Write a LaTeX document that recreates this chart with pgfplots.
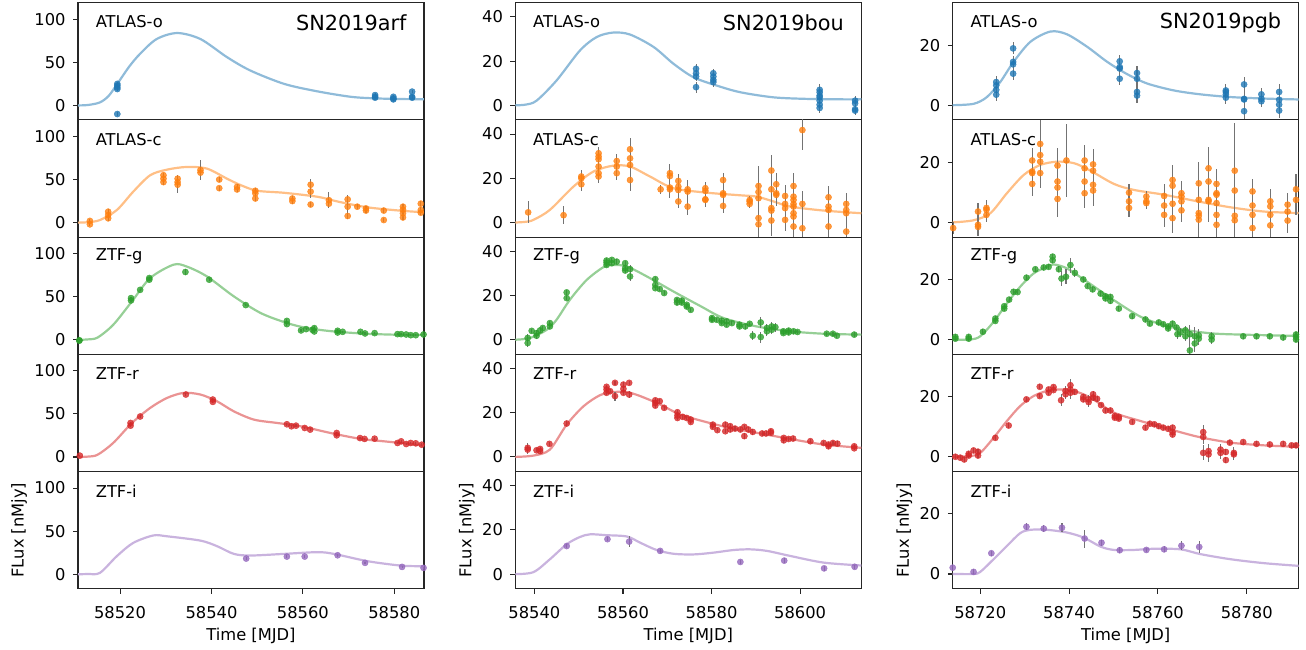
\documentclass[border=0pt]{standalone}
\usepackage{fontspec}
\setmainfont{DejaVu Sans}
\usepackage{pgfplots}
\pgfplotsset{compat=1.18}
\definecolor{tabblue}{HTML}{1F77B4}
\definecolor{taborange}{HTML}{FF7F0E}
\definecolor{tabgreen}{HTML}{2CA02C}
\definecolor{tabred}{HTML}{D62728}
\definecolor{tabpurple}{HTML}{9467BD}
\newcommand\lbl{\fontsize{16.3}{19}\selectfont}
\newcommand\ttl{\fontsize{20.8}{25}\selectfont}
\pgfplotsset{
  base/.style={scale only axis, width=346pt, height=117.2pt, anchor=south west,
    axis line style={line width=1.1pt, black!85}, tick align=outside, major tick length=4.9pt,
    tick style={line width=1.1pt, black!85}, xtick pos=bottom, ytick pos=left,
    ticklabel style={font=\lbl}, /pgf/number format/assume math mode=true,
    scaled x ticks=false, scaled y ticks=false,
    xticklabel style={yshift=-9pt}, yticklabel style={xshift=-4pt},
    label style={font=\lbl}, clip=true},
  col1/.style={xmin=58510.8, xmax=58586.5, ymin=-16.8, ymax=119.2, ytick={0,50,100}},
  col2/.style={xmin=58535.7, xmax=58613.8, ymin=-6.6, ymax=46.4, ytick={0,20,40}},
  col3/.style={xmin=58713.8, xmax=58791.7, ymin=-4.9, ymax=34.1, ytick={0,20}},
  upper/.style={xtick=\empty},
  lower/.style={xlabel={Time [MJD]}, ylabel={FLux [nMjy]}, xlabel style={yshift=-3pt}, ylabel style={yshift=0.5pt}},
  curve/.style={no marks, smooth, line width=2.2pt, draw=#1!50!white},
  pts/.style={only marks, mark=*, mark size=3.1pt, color=#1,
    mark options={fill=#1, draw=#1, line width=0.4pt, fill opacity=0.8, draw opacity=0.8},
    error bars/.cd, y dir=both, y explicit, error mark=none,
    error bar style={line width=1.1pt, black!55}},
}
\newcommand\band[1]{\node[anchor=west, inner sep=0pt, font=\lbl] at (rel axis cs:0.051,0.835) {#1};}
\newcommand\sn[1]{\node[anchor=east, inner sep=0pt, font=\ttl] at (rel axis cs:0.95,0.825) {#1};}
\begin{document}
\begin{tikzpicture}
\useasboundingbox (0,0) rectangle (1306pt,649pt);
%================ COLUMN 1 : SN2019arf =================
\begin{axis}[base, col1, upper, at={(78pt,529.1pt)}]
\addplot[curve=tabblue] table[row sep=\\]{
58510.8 0\\ 58513 0.5\\ 58515.6 3.5\\ 58517.5 11\\ 58519.4 25\\ 58522 45\\ 58524.4 60\\ 58528 77\\ 58532.5 84\\ 58537.6 77\\ 58543.4 56\\ 58548.5 40.5\\ 58555.9 25\\ 58563.2 16.3\\ 58570.5 10\\ 58575.7 8.2\\ 58581.5 7.4\\ 58586.5 7.2\\};
\addplot[pts=tabblue] table[row sep=\\, y error index=2]{
58519.4 25 2\\ 58519.4 23 2\\ 58519.4 21 2\\ 58519.4 19 2\\ 58519.4 -10 2\\
58575.8 12 2\\ 58575.8 10 2\\ 58575.8 9 2\\ 58579.8 10 2\\ 58579.8 8 2\\ 58579.8 7 2\\
58583.9 16 2\\ 58583.9 10 2\\ 58583.9 9 2\\};
\band{ATLAS-o}
\sn{SN2019arf}
\end{axis}
\begin{axis}[base, col1, upper, at={(78pt,411.9pt)}]
\addplot[curve=taborange] table[row sep=\\]{
58510.8 0\\ 58513 0.5\\ 58515.6 3\\ 58519.3 14.6\\ 58522.9 36\\ 58526.6 55\\ 58530.3 61.5\\ 58534.6 64.6\\ 58539 62.7\\ 58543.4 51\\ 58546.4 43.5\\ 58550 37\\ 58555.9 34.6\\ 58563.2 30\\ 58568 24\\ 58574.2 17.7\\ 58581.5 13.8\\ 58586.5 12\\};
\addplot[pts=taborange] table[row sep=\\, y error index=2]{
58513.4 2 2\\ 58513.4 -2 2\\ 58517.4 12.7 3\\ 58517.4 8.8 3\\ 58517.4 5 3\\
58529.5 55 3\\ 58529.5 51 3\\ 58529.5 47 3\\ 58532.6 51 4\\ 58532.6 47 4\\ 58532.6 44 10\\
58537.6 61 12\\ 58537.6 58 4\\ 58541.7 50 3\\ 58541.7 40 3\\ 58545.6 41.5 3\\ 58545.6 38.5 3\\
58549.6 37 3\\ 58549.6 34 3\\ 58549.6 28 3\\ 58557.7 28 3\\ 58557.7 25 3\\
58561.7 44 7\\ 58561.7 36 7\\ 58561.7 21 3\\ 58565.7 26 9\\ 58565.7 22 3\\
58569.8 27 5\\ 58569.8 18.5 9\\ 58569.8 7.7 3\\ 58571.9 18.5 3\\ 58573.8 16.5 3\\ 58573.8 14 3\\
58577.7 14 3\\ 58577.7 3 2\\ 58581.9 18.5 3\\ 58581.9 15 3\\ 58581.9 10.8 3\\ 58581.9 6 3\\
58585.8 22 3\\ 58585.8 14.6 3\\ 58585.8 11.5 3\\};
\band{ATLAS-c}
\end{axis}
\begin{axis}[base, col1, upper, at={(78pt,294.7pt)}]
\addplot[curve=tabgreen] table[row sep=\\]{
58510.8 0\\ 58513 0.5\\ 58515.1 2.7\\ 58518.5 17.4\\ 58522.6 44.6\\ 58526.6 71.7\\ 58531.7 87.2\\ 58534.6 85\\ 58539 73.6\\ 58544.9 50.4\\ 58550.8 31\\ 58556.6 19.4\\ 58561 13.6\\ 58566.8 9.7\\ 58574.1 7\\ 58581.5 5.8\\ 58586.5 5.8\\};
\addplot[pts=tabgreen] table[row sep=\\, y error index=2]{
58511.1 -1 1\\ 58511.1 -0.5 1\\ 58522.4 48.4 1.5\\ 58522.4 45.7 1.5\\ 58524.4 58 1.5\\
58526.4 71.7 1.5\\ 58526.4 69.8 1.5\\ 58534.3 78.7 4\\ 58539.5 69.8 1.5\\ 58547.5 40.3 1.5\\
58556.5 22 2\\ 58556.5 18.2 2\\ 58559.6 10.9 2\\ 58560.7 12.4 1.5\\ 58562.1 11.6 1.5\\
58562.5 13.6 2\\ 58562.5 9.7 2\\ 58567.6 10.5 1.5\\ 58567.6 8.5 1.5\\ 58568.7 9.3 1.5\\
58572.6 9.3 1.5\\ 58573.6 7.4 1.5\\ 58575.7 7.8 1.5\\ 58580.7 6.6 1.5\\ 58581.5 6.6 1\\
58582.6 6.2 1\\ 58583.6 5.4 1\\ 58584.7 5.4 1\\ 58586.4 6.2 1\\};
\band{ZTF-g}
\end{axis}
\begin{axis}[base, col1, upper, at={(78pt,177.5pt)}]
\addplot[curve=tabred] table[row sep=\\]{
58510.8 0\\ 58513 0.5\\ 58515.1 2.7\\ 58518.5 16.3\\ 58522.6 39.5\\ 58526.6 57\\ 58530.3 68.6\\ 58533.9 74.4\\ 58537.6 72.5\\ 58541.2 64.7\\ 58544.9 53\\ 58549.3 43.4\\ 58554.4 39.5\\ 58559.5 35.7\\ 58566.8 27\\ 58572.7 21\\ 58577.8 18.2\\ 58582.9 15.5\\ 58586.5 13\\};
\addplot[pts=tabred] table[row sep=\\, y error index=2]{
58511.2 1.6 1\\ 58522.3 39.5 1.5\\ 58522.3 36.4 1.5\\ 58524.4 47 1.5\\ 58534.4 72.5 1.5\\
58540.3 66.7 1.5\\ 58540.3 64 1.5\\ 58556.5 38 1.5\\ 58557.5 35.7 1.5\\ 58558.5 36.4 1.5\\
58560.4 33.7 1.5\\ 58561.6 31.8 1.5\\ 58567.4 27.9 1.5\\ 58567.4 25.2 1.5\\ 58572.5 22 1.5\\
58573.5 21 1.5\\ 58575.7 21.3 1.5\\ 58580.7 16.3 1.5\\ 58581.5 18.2 1.5\\ 58582.6 15.1 1.5\\
58583.6 16.3 1.5\\ 58584.7 15.9 1.5\\ 58586 14.3 1.5\\};
\band{ZTF-r}
\end{axis}
\begin{axis}[base, col1, lower, at={(78pt,60.3pt)}, xtick={58520,58540,58560,58580}, xticklabels={58520,58540,58560,58580}]
\addplot[curve=tabpurple] table[row sep=\\]{
58510.8 0\\ 58513 0.3\\ 58515.6 1.6\\ 58519.3 21\\ 58522.9 36.4\\ 58527.3 45\\ 58530.3 44\\ 58537.6 39\\ 58541.2 32.6\\ 58544.9 23.6\\ 58548.5 21.7\\ 58555.9 23.6\\ 58563.2 25.6\\ 58566.8 23.6\\ 58574.2 15.1\\ 58581.5 10\\ 58586.5 9.3\\};
\addplot[pts=tabpurple] table[row sep=\\, y error index=2]{
58547.6 18.2 1.5\\ 58556.5 20.5 1.5\\ 58560.4 20.5 1.5\\ 58567.6 22 1.5\\ 58573.6 13.2 1.5\\ 58581.7 8.5 1.5\\ 58586.4 7.4 1.5\\};
\band{ZTF-i}
\end{axis}
%================ COLUMN 2 : SN2019bou =================
\begin{axis}[base, col2, upper, at={(515.3pt,529.1pt)}]
\addplot[curve=tabblue] table[row sep=\\]{
58535.7 0\\ 58538 0.3\\ 58540.5 2.1\\ 58545 11.2\\ 58550.3 24.8\\ 58554.1 30.9\\ 58557.8 32.9\\ 58561.6 32\\ 58566.9 26.4\\ 58571.4 18.8\\ 58575.9 12.7\\ 58581.2 8.9\\ 58586.5 5.9\\ 58594 3.6\\ 58601.5 2.9\\ 58609 2.7\\ 58613.8 2.7\\};
\addplot[pts=tabblue] table[row sep=\\, y error index=2]{
58576.5 16.5 2\\ 58576.5 14.5 2\\ 58576.5 13 2\\ 58576.5 8.2 2.5\\
58580.4 14.5 2\\ 58580.4 13 2\\ 58580.4 11.5 2\\ 58580.4 10.5 2\\
58604.4 7 2.5\\ 58604.4 5.9 2.5\\ 58604.4 4.4 2.5\\ 58604.4 3.6 2.5\\ 58604.4 2.1 2.5\\ 58604.4 0.3 2.5\\ 58604.4 -1.2 2.5\\
58612.4 2.1 2\\ 58612.4 0.9 2\\ 58612.4 -1.8 2\\ 58612.4 -2.4 2\\};
\band{ATLAS-o}
\sn{SN2019bou}
\end{axis}
\begin{axis}[base, col2, upper, at={(515.3pt,411.9pt)}]
\addplot[curve=taborange] table[row sep=\\]{
58535.7 0\\ 58538 0.3\\ 58539.8 1.2\\ 58543.5 5.7\\ 58548.8 16.2\\ 58553.3 23\\ 58557.8 25.7\\ 58561.6 25.3\\ 58566.1 20.8\\ 58571.4 15.5\\ 58578.9 13.5\\ 58586.5 12.3\\ 58590.2 11.7\\ 58594 9.5\\ 58597.8 7.2\\ 58605.3 5.4\\ 58613.8 4.2\\};
\addplot[pts=taborange] table[row sep=\\, y error index=2]{
58538.6 4.6 5\\ 58546.6 3.3 4\\ 58550.6 20.8 3\\ 58550.6 20 3\\ 58550.6 17.3 3\\
58554.5 31.3 3\\ 58554.5 29.8 3\\ 58554.5 28.6 3\\ 58554.5 25.3 3\\ 58554.5 22.3 3\\ 58554.5 20.8 3\\
58558.6 27.8 3\\ 58558.6 25.3 3\\ 58558.6 22.3 3\\
58561.6 33.1 5\\ 58561.6 29 5\\ 58561.6 26 5\\ 58561.6 19.2 5\\
58568.5 15 2\\ 58570.6 22.3 4\\ 58570.6 21 4\\ 58570.6 15.8 4\\ 58570.6 15 4\\
58572.5 18.8 3\\ 58572.5 16.2 3\\ 58572.5 14.7 3\\ 58572.5 9.5 3\\
58574.6 15 4\\ 58574.6 14 4\\ 58574.6 7.2 4\\
58578.6 15.5 3\\ 58578.6 14.3 3\\ 58578.6 10.5 3\\ 58578.6 10.2 3\\
58582.6 19.2 3\\ 58582.6 13.2 3\\ 58582.6 12.5 3\\ 58582.6 7.5 3\\
58588.6 10.2 2\\ 58588.6 9.5 2\\ 58588.6 8.4 2\\
58590.6 16.5 9\\ 58590.6 13.8 9\\ 58590.6 11 9\\ 58590.6 2 9\\ 58590.6 -0.8 9\\
58593.5 23.5 7\\ 58593.5 15 7\\ 58593.5 6.5 7\\ 58593.5 5.4 7\\ 58593.5 0.9 7\\
58594.6 17.3 5\\ 58594.6 13.2 5\\ 58594.6 12.5 5\\
58596.6 12 5\\ 58596.6 8.4 5\\ 58596.6 6.5 5\\ 58596.6 1.2 5\\
58598.5 16.5 6\\ 58598.5 11.7 6\\ 58598.5 10.2 6\\ 58598.5 8.4 6\\ 58598.5 7.2 6\\ 58598.5 4.2 6\\ 58598.5 2.7 6\\ 58598.5 -1.8 6\\
58600.5 41.8 9\\ 58600.5 8.4 6\\ 58600.5 -2.6 6\\
58606.4 11.4 5\\ 58606.4 7.2 5\\ 58606.4 5.7 5\\ 58606.4 -1.8 5\\
58610.4 8.4 5\\ 58610.4 5.7 5\\ 58610.4 4.2 5\\ 58610.4 -4.1 5\\};
\band{ATLAS-c}
\end{axis}
\begin{axis}[base, col2, upper, at={(515.3pt,294.7pt)}]
\addplot[curve=tabgreen] table[row sep=\\]{
58535.7 0\\ 58539 0.75\\ 58542.8 4.5\\ 58545 9\\ 58548 18\\ 58551.8 27\\ 58555.6 32.8\\ 58557.8 33.8\\ 58560.9 33.1\\ 58565.4 28.6\\ 58571.4 21.8\\ 58577.4 15.3\\ 58582.7 9.8\\ 58590.2 6\\ 58597.8 3.8\\ 58605.3 2.7\\ 58613.8 2.3\\};
\addplot[pts=tabgreen] table[row sep=\\, y error index=2]{
58538.5 0.8 2\\ 58538.5 -1.5 2\\ 58539.4 4 1\\ 58540.5 3 1.5\\ 58540.5 1.8 1.5\\ 58541.3 4.2 1\\ 58541.9 5.3 1\\
58543.5 7.5 1\\ 58543.5 6 1\\ 58547.3 21.4 1\\ 58547.3 18.8 1\\
58556.3 35.8 1\\ 58556.3 34.9 1\\ 58556.3 33.8 1\\ 58557.5 36.1 1\\ 58557.5 34.6 1\\ 58558.6 35.3 1\\
58560.5 34.6 1\\ 58560.5 32.3 1\\ 58560.5 31.3 1\\ 58561.6 31.9 2\\ 58561.6 28.6 2\\
58567.3 27.4 1\\ 58567.3 24.8 1\\ 58567.3 23.3 1\\ 58568.3 22.9 1\\ 58569.3 21.1 1\\
58572.2 18 1\\ 58572.2 16.8 1\\ 58573.3 17.7 1\\ 58573.3 16.8 1\\ 58574.4 15.8 1\\ 58574.4 15 1\\ 58575.3 13.5 1\\
58580.1 9.8 1\\ 58580.1 9 1\\ 58581.2 9 1\\ 58582.3 8.6 1\\ 58582.3 7.5 1\\ 58583.4 8.3 1\\ 58583.4 6.8 1\\ 58584.6 7.5 1\\
58586.3 6.8 1\\ 58586.3 6 1\\ 58587.6 6 1\\ 58588.6 7.2 1\\ 58589.3 1.8 2\\
58591.1 7.8 2.5\\ 58591.1 1.2 2.5\\ 58592.5 5.3 2\\ 58592.5 3.8 2\\ 58593.6 6 2\\ 58593.6 4.5 2\\ 58594.4 5.7 2\\
58596.2 3.8 1\\ 58596.2 3 1\\ 58597.4 4.1 1\\ 58597.4 3.3 1\\ 58598.5 3.8 1\\ 58599.4 3.5 1\\
58606 2.7 1\\ 58607.4 2.7 1\\ 58608.3 1.8 1\\ 58612.2 2.3 1\\};
\band{ZTF-g}
\end{axis}
\begin{axis}[base, col2, upper, at={(515.3pt,177.5pt)}]
\addplot[curve=tabred] table[row sep=\\]{
58535.7 0\\ 58539.8 0.6\\ 58543.5 3.3\\ 58547.3 14.6\\ 58551.1 22.9\\ 58554.8 27.9\\ 58557.8 29.3\\ 58560.9 29.3\\ 58563.9 27.5\\ 58568.4 23.7\\ 58572.9 19.2\\ 58578.9 15.7\\ 58584.2 13.1\\ 58590.2 10.9\\ 58597.8 8.1\\ 58605.3 5.6\\ 58613.8 4.1\\};
\addplot[pts=tabred] table[row sep=\\, y error index=2]{
58538.5 4.1 2\\ 58538.5 3.3 2\\ 58540.5 3 1\\ 58541.3 3.6 1\\ 58541.3 2.6 1\\ 58543.4 5.9 1\\ 58547.3 15.1 1\\
58556.3 31.7 1\\ 58556.3 30.5 1\\ 58556.3 29 1\\ 58557.1 29.7 1\\ 58558.2 33.5 1\\ 58558.2 27.5 2\\
58560.1 32.7 1\\ 58560.1 30.8 1\\ 58560.1 29 1\\ 58561.4 33.5 1\\ 58561.4 28.2 1.5\\
58567.3 25.6 1\\ 58567.3 24.4 1\\ 58567.3 23.2 1\\ 58568.3 25.2 1\\ 58569.3 22.2 1\\
58572.3 20.2 1\\ 58572.3 18.7 1\\ 58572.3 17.6 1\\ 58573.5 18.1 1\\ 58574.4 17.6 1\\ 58575.3 16.9 1\\ 58575.3 15.8 1\\
58580.3 14.6 1\\ 58580.3 13.6 1\\ 58581.3 12.1 1\\ 58583.1 14.6 1\\ 58583.1 11.6 1\\ 58584.2 13.9 1\\ 58584.2 12.4 1\\
58585.3 12.8 1\\ 58586.5 12.4 1\\ 58587.4 13.6 1\\ 58587.4 9.4 1.5\\ 58588.3 12.4 1\\ 58589.3 11.3 1.5\\
58591.4 10.6 1\\ 58592.3 10.6 1\\ 58593.4 11.6 1\\ 58593.4 10.9 1\\
58596.3 8.6 1\\ 58596.3 7.5 1\\ 58597.4 8.1 1\\ 58598.4 8.3 1\\ 58602.3 7.1 1\\
58605.3 6.3 1\\ 58606.4 5.6 1\\ 58606.4 4.8 1\\ 58607.4 6.3 1\\ 58608.4 6 1\\ 58612.2 4.8 1\\ 58612.2 3.9 1\\};
\band{ZTF-r}
\end{axis}
\begin{axis}[base, col2, lower, at={(515.3pt,60.3pt)}, xtick={58540,58560,58580,58600}, xticklabels={58540,58560,58580,58600}]
\addplot[curve=tabpurple] table[row sep=\\]{
58535.7 0\\ 58539.8 0.9\\ 58543.5 6.7\\ 58547.3 13.5\\ 58550.3 16.8\\ 58552.6 18\\ 58556.3 17.6\\ 58560.9 17\\ 58563.9 14.2\\ 58567.6 10.9\\ 58571.4 9.2\\ 58575.9 8.9\\ 58580.4 9.7\\ 58585 10.9\\ 58588.7 11.2\\ 58592.5 10.5\\ 58597.8 8.2\\ 58605.3 5.2\\ 58613.8 3.9\\};
\addplot[pts=tabpurple] table[row sep=\\, y error index=2]{
58547.3 12.7 1\\ 58556.5 15.8 1\\ 58561.4 14.7 2.5\\ 58568.4 10.5 1\\ 58586.5 5.5 1\\ 58596.4 6.1 1\\ 58605.4 2.6 1\\ 58612.3 3.3 1\\};
\band{ZTF-i}
\end{axis}
%================ COLUMN 3 : SN2019pgb =================
\begin{axis}[base, col3, upper, at={(952.7pt,529.1pt)}]
\addplot[curve=tabblue] table[row sep=\\]{
58713.8 0\\ 58718.5 0.45\\ 58721.5 2.7\\ 58724.5 7.7\\ 58727.5 14.4\\ 58731.3 21.1\\ 58735.8 24.5\\ 58739.5 23.6\\ 58744.1 19.4\\ 58748.6 14.4\\ 58753.1 10.3\\ 58757.6 7.2\\ 58763.6 4.9\\ 58769.6 3.6\\ 58776.4 2.7\\ 58783.9 2.2\\ 58791.7 1.9\\};
\addplot[pts=tabblue] table[row sep=\\, y error index=2]{
58723.6 7.7 2\\ 58723.6 6.6 2\\ 58723.6 5.1 2\\ 58723.6 3.5 2\\
58727.4 18.9 2\\ 58727.4 14.4 2\\ 58727.4 13.6 2\\ 58727.4 10.5 2\\
58751.4 14.6 2\\ 58751.4 12.7 2\\ 58751.4 12.2 2\\ 58751.4 8.8 2\\
58755.3 10.7 2.5\\ 58755.3 8.8 2.5\\ 58755.3 4.4 2.5\\ 58755.3 3.2 2.5\\
58775.3 4.9 2\\ 58775.3 4.4 2\\ 58775.3 3.6 2\\ 58775.3 2.5 2\\
58779.4 6.9 2.5\\ 58779.4 2.1 2.5\\ 58779.4 1.9 2.5\\ 58779.4 -2 2.5\\
58783.3 3.6 2\\ 58783.3 2.1 2\\ 58783.3 1.3 2\\
58787.3 4.4 2.5\\ 58787.3 1.8 2.5\\ 58787.3 0.2 2.5\\ 58787.3 -1.8 2.5\\};
\band{ATLAS-o}
\sn{SN2019pgb}
\end{axis}
\begin{axis}[base, col3, upper, at={(952.7pt,411.9pt)}]
\addplot[curve=taborange] table[row sep=\\]{
58713.8 0\\ 58718.5 0.7\\ 58722.3 3.1\\ 58726 9.7\\ 58729.8 15.8\\ 58733.5 19.1\\ 58737.3 20.2\\ 58741.1 19.7\\ 58744.8 17.2\\ 58750.1 12.8\\ 58754.6 10.8\\ 58761.4 9.2\\ 58768.9 7\\ 58776.4 5\\ 58783.9 3.6\\ 58791.7 3.1\\};
\addplot[pts=taborange] table[row sep=\\, y error index=2]{
58713.9 -1.9 2\\ 58719.5 3.6 3\\ 58719.5 -0.8 3\\ 58719.5 -1.5 3\\ 58721.4 4.8 2.5\\ 58721.4 4.2 2.5\\ 58721.4 2.5 2.5\\
58731.7 20.6 4\\ 58731.7 16.9 4\\ 58731.7 16.4 4\\ 58731.7 12.8 4\\
58733.5 26.1 8\\ 58733.5 22.4 5\\ 58733.5 20.2 5\\ 58733.5 16.4 5\\
58737.4 18.9 6\\ 58737.4 13.6 6\\ 58737.4 11.6 6\\ 58737.4 7.8 6\\ 58739.4 20.6 12\\
58743.5 20.6 5\\ 58743.5 18 5\\ 58743.5 13.6 5\\ 58743.5 9.7 5\\
58745.4 19.3 5\\ 58745.4 17.2 5\\ 58745.4 12.5 5\\ 58745.4 10.6 5\\
58753.5 9.9 3\\ 58753.5 7 3\\ 58753.5 4.8 3\\ 58757.4 8.6 2\\ 58757.4 7 2\\ 58757.4 6.4 2\\
58761.4 8.8 4\\ 58761.4 5.6 4\\ 58761.4 2.5 4\\
58763.3 14.1 5\\ 58763.3 12.2 5\\ 58763.3 6.2 5\\ 58763.3 1.4 5\\
58765.3 9.7 4\\ 58765.3 8.6 4\\ 58765.3 7 4\\ 58765.3 4 4\\
58769.2 13 7\\ 58769.2 7.5 7\\ 58769.2 3.1 7\\ 58769.2 2.2 7\\ 58769.2 0.9 7\\
58771.4 18 7\\ 58771.4 13.6 7\\ 58771.4 7.5 7\\ 58771.4 7 7\\
58773.2 12.8 5\\ 58773.2 9.7 5\\ 58773.2 9.2 5\\ 58773.2 6.4 5\\ 58773.2 2.5 5\\ 58773.2 -0.8 5\\
58777.3 17.2 16\\ 58777.3 10.6 8\\ 58777.3 2.2 8\\ 58777.3 0.7 8\\
58781.3 10.3 4\\ 58781.3 5.6 4\\ 58781.3 2.5 4\\ 58781.3 -1.9 4\\
58785.3 7 4\\ 58785.3 5.3 4\\ 58785.3 2.5 4\\ 58785.3 -1 4\\
58789.2 5.9 4\\ 58789.2 3.6 4\\ 58789.2 0.6 4\\ 58791.1 11 5\\ 58791.1 7.5 5\\};
\band{ATLAS-c}
\end{axis}
\begin{axis}[base, col3, upper, at={(952.7pt,294.7pt)}]
\addplot[curve=tabgreen] table[row sep=\\]{
58713.8 0\\ 58717.7 0\\ 58720 1.1\\ 58723 5.9\\ 58726 12\\ 58729 17.6\\ 58732 22\\ 58735 24.2\\ 58736.5 25\\ 58739.5 23.7\\ 58744.1 19.2\\ 58750.1 13.1\\ 58756.1 7.6\\ 58761.4 4.8\\ 58766.6 3.1\\ 58772.6 2\\ 58780.2 1.6\\ 58791.7 1.2\\};
\addplot[pts=tabgreen] table[row sep=\\, y error index=2]{
58714.4 0.9 0.8\\ 58714.4 0.3 0.8\\ 58717.4 0.9 0.8\\ 58717.4 0.3 0.8\\ 58720.6 2.6 0.8\\
58723.4 7 0.8\\ 58723.4 6.2 0.8\\ 58725.4 11.1 0.8\\ 58725.4 10.3 0.8\\ 58726.5 13.3 0.8\\
58727.5 15.9 0.8\\ 58728.4 15.8 0.8\\ 58730.4 20.6 0.8\\ 58732.4 23.4 0.8\\ 58734.3 24 0.8\\
58735.4 24.2 0.8\\ 58736.3 27.6 1\\ 58736.3 26.4 1\\ 58737.7 23.4 1\\ 58738.3 20.3 2.5\\
58739.3 20.9 2.5\\ 58740.3 24.8 2.5\\ 58741.3 22.2 1.5\\ 58743.2 20 0.8\\ 58744.2 17.8 0.8\\
58745.3 16.7 0.8\\ 58747.1 15.3 0.8\\ 58748.2 14.4 0.8\\ 58748.2 13.7 0.8\\ 58749.3 14.2 1\\
58749.3 12.9 1\\ 58751.2 10.3 0.8\\ 58754.2 7.8 0.8\\ 58757.2 6.7 0.8\\ 58758.2 5.3 0.8\\
58760.2 5.7 0.8\\ 58761.2 5.1 0.8\\ 58762.3 4.4 0.8\\ 58762.3 3.7 0.8\\ 58763.3 5.3 0.8\\
58764.2 4 0.8\\ 58764.4 1.8 1.5\\ 58765.1 2.4 1.5\\ 58766.2 3.1 1.5\\ 58766.2 1.1 1.5\\
58767.2 -3.6 4\\ 58767.2 1.8 3\\ 58768.3 1.1 3\\ 58768.3 -1.3 3\\ 58769.2 1.4 2\\ 58769.2 0.3 2\\
58772.1 1.1 1.5\\ 58772.1 0 1.5\\ 58779.2 1.1 0.8\\ 58782.2 1.1 0.8\\ 58785.2 1.1 0.8\\
58788.2 0.7 0.8\\ 58791.1 1.7 0.8\\ 58791.1 0.9 0.8\\ 58791.1 0 0.8\\};
\band{ZTF-g}
\end{axis}
\begin{axis}[base, col3, upper, at={(952.7pt,177.5pt)}]
\addplot[curve=tabred] table[row sep=\\]{
58713.8 0\\ 58717.7 0.2\\ 58720 1.3\\ 58723 6.3\\ 58726 11.9\\ 58729 16.9\\ 58732 20.2\\ 58735 21.9\\ 58738 22.4\\ 58741.1 21.9\\ 58744.8 19.7\\ 58750.1 14.7\\ 58756.1 11.9\\ 58761.4 9.7\\ 58768.9 6.7\\ 58776.4 4.7\\ 58783.9 3.8\\ 58791.7 3.3\\};
\addplot[pts=tabred] table[row sep=\\, y error index=2]{
58714.4 0 0.8\\ 58715.5 -0.3 0.8\\ 58716.4 -0.9 0.8\\ 58717.4 1 0.8\\ 58717.4 0.4 0.8\\
58718.5 2.1 0.8\\ 58719.5 1.7 0.8\\ 58719.5 0.4 0.8\\ 58723.4 6.3 0.8\\ 58726.4 10.4 0.8\\
58730.4 19.1 0.8\\ 58733.4 23.3 0.8\\ 58733.4 20.2 0.8\\ 58735.4 22.4 0.8\\ 58735.4 21.3 0.8\\
58736.5 23.2 0.8\\ 58736.5 22.2 0.8\\ 58738.2 18.8 2\\ 58739.2 21.9 1.5\\ 58739.2 20.8 1.5\\
58740.3 23.8 2\\ 58740.3 22.4 2\\ 58740.3 21.3 2\\ 58741.3 21.6 1\\ 58743.2 19.9 1\\
58743.2 19.1 1\\ 58744.4 19.1 1.5\\ 58744.4 18.2 1.5\\ 58745.4 20.8 1\\ 58745.4 19.7 1\\
58746.3 19.3 1\\ 58747.2 17.2 0.8\\ 58748.2 15.4 0.8\\ 58749.3 15.4 0.8\\ 58750.3 13.6 0.8\\
58750.3 13 0.8\\ 58751.2 13.3 0.8\\ 58751.2 12.7 0.8\\ 58754.2 11.6 0.8\\ 58757.2 9.7 0.8\\
58758.2 11 0.8\\ 58759.2 10.8 0.8\\ 58760.2 10.2 0.8\\ 58761.2 9.7 0.8\\ 58762.3 9.3 0.8\\
58763.3 9.7 0.8\\ 58763.3 8.2 0.8\\ 58763.3 7.4 0.8\\ 58770.2 8.2 2.5\\ 58770.2 6.6 2.5\\
58770.2 1.3 2.5\\ 58771.4 1.9 2.5\\ 58771.4 0.8 2.5\\ 58774.1 2.4 2\\ 58774.1 1.3 2\\
58775.3 1.6 1\\ 58775.3 -1.1 1\\ 58776.2 4.7 0.8\\ 58777.1 1.3 2\\ 58777.1 0.8 2\\
58779.2 4.9 0.8\\ 58782.2 4.3 0.8\\ 58785.2 4.1 0.8\\ 58788.2 4.3 0.8\\ 58790.1 3.8 0.8\\ 58791.1 3.8 0.8\\};
\band{ZTF-r}
\end{axis}
\begin{axis}[base, col3, lower, at={(952.7pt,60.3pt)}, xtick={58720,58740,58760,58780}, xticklabels={58720,58740,58760,58780}]
\addplot[curve=tabpurple] table[row sep=\\]{
58713.8 0\\ 58718.5 0\\ 58720 0.7\\ 58723 4.9\\ 58726 9.3\\ 58729 13.6\\ 58731.3 14.7\\ 58735 14.7\\ 58739.5 13.8\\ 58743.3 12.1\\ 58747.1 9.1\\ 58750.1 8\\ 58754.6 8\\ 58759.1 8.4\\ 58765.1 8.2\\ 58769.6 6.6\\ 58776.4 4.9\\ 58783.9 3.6\\ 58791.7 2.7\\};
\addplot[pts=tabpurple] table[row sep=\\, y error index=2]{
58713.8 2.1 0.8\\ 58718.5 0.7 0.8\\ 58722.5 6.9 0.8\\ 58730.4 15.7 1.2\\ 58734.3 15.1 1.2\\
58738.4 15.4 1.5\\ 58743.5 11.8 3\\ 58747.3 10.4 1\\ 58751.4 7.9 1\\ 58757.4 8 0.8\\
58761.4 8.2 1\\ 58765.3 9.4 1.5\\ 58769.3 9 2\\};
\band{ZTF-i}
\end{axis}
\end{tikzpicture}
\end{document}
